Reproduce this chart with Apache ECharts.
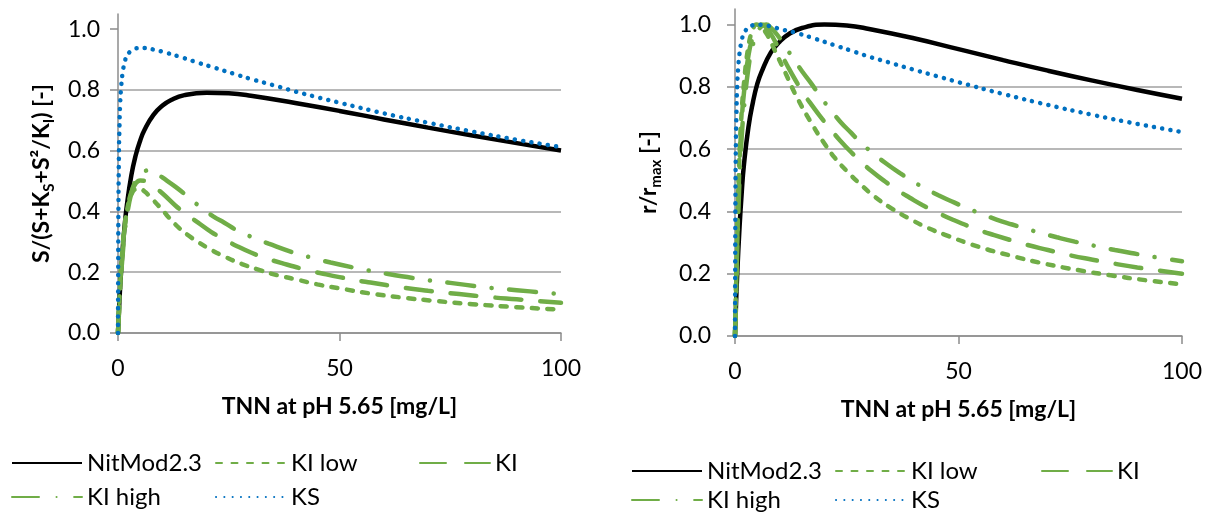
<!DOCTYPE html>
<html><head><meta charset="utf-8">
<script src="https://cdn.jsdelivr.net/npm/echarts@6/dist/echarts.min.js"></script>
<style>html,body{margin:0;padding:0;background:#fff}#c{width:1211px;height:512px}</style>
</head><body><div id="c"></div>
<script>
const seriesNames = ['NitMod2.3', 'KI low', 'KI', 'KI high', 'KS'];
const xTicks = [0, 50, 100];
const yTicks = [0, 0.2, 0.4, 0.6, 0.8, 1.0];
const xTitle = 'TNN at pH 5.65 [mg/L]';
const yTitleLeft = 'S/(S+K{sub|S}+S²/K{sub|I}) [-]';
const yTitleRight = 'r/r{sub|max} [-]';

// ---- Left panel: S/(S+KS+S²/KI) ----
const L_nit_x = [0,0.25,0.5,1,1.5,2,3,4,5,6,8,10,12,15,20,25,30,40,50,60,70,80,90,100];
const L_nit_y = [0,0.084,0.154,0.267,0.353,0.42,0.518,0.585,0.633,0.669,0.718,0.748,0.767,0.783,0.791,0.789,0.781,0.757,0.731,0.703,0.676,0.65,0.625,0.601];
const L_low_x = [0,0.5,1,1.5,2,3,4,5,6,7,8,10,12,14,16,18,21,24,28,32,36,40,45,50,57,64,72,80,90,100];
const L_low_y = [0,0.165,0.276,0.351,0.401,0.455,0.473,0.474,0.466,0.452,0.437,0.405,0.372,0.343,0.32,0.3,0.274,0.252,0.227,0.207,0.19,0.177,0.16,0.147,0.13,0.117,0.105,0.095,0.085,0.077];
const L_ki_x = [0,0.5,1,1.5,2,3,4,5,6,7,8,10,13,15.5,18,21,24,27,30,33,37,43,47,50,54,57,64,70,77,84,90,100];
const L_ki_y = [0,0.158,0.268,0.345,0.399,0.463,0.492,0.502,0.501,0.494,0.483,0.46,0.419,0.39,0.364,0.333,0.308,0.285,0.265,0.248,0.23,0.206,0.193,0.184,0.173,0.166,0.15,0.139,0.128,0.118,0.111,0.0995];
const L_hi_x = [0,0.5,1,1.5,2,3,4,5,6,7,8,10,13,15.5,18.4,21.5,24,27,30.7,34,40,44,48,54,58,61,68,72,75,82,86,90,96,100];
const L_hi_y = [0,0.144,0.249,0.327,0.384,0.46,0.502,0.523,0.533,0.535,0.532,0.512,0.481,0.452,0.417,0.384,0.363,0.337,0.313,0.294,0.263,0.247,0.232,0.213,0.202,0.194,0.178,0.17,0.165,0.152,0.146,0.141,0.133,0.128];
const L_ks_x = [0,0.05,0.1,0.2,0.3,0.5,0.75,1,1.5,2,3,4,5,6,8,10,14,18,22,26,30,35,40,45,50,60,70,80,90,100];
const L_ks_y = [0,0.24,0.42,0.58,0.66,0.76,0.815,0.851,0.891,0.911,0.93,0.937,0.938,0.938,0.933,0.926,0.909,0.89,0.872,0.854,0.836,0.816,0.795,0.776,0.758,0.723,0.692,0.663,0.636,0.612];

// ---- Right panel: r/rmax ----
const R_nit_x = [0,0.25,0.5,1,1.5,2,3,4,5,6,8,10,12,15,20,25,30,40,50,60,70,80,90,100];
const R_nit_y = [0,0.11,0.2,0.345,0.46,0.55,0.67,0.75,0.81,0.85,0.91,0.945,0.969,0.989,1.0,0.997,0.986,0.956,0.921,0.886,0.852,0.82,0.79,0.762];
const R_low_x = [0,0.5,1,1.5,2,3,4,4.8,6,7,8,9.3,11.5,13.8,17.5,20,22.4,25.4,28,31.3,35,39.5,43.3,47,54.4,62,69,77,84,92,100];
const R_low_y = [0,0.34,0.58,0.72,0.81,0.93,0.985,1.0,0.99,0.972,0.945,0.905,0.838,0.768,0.674,0.618,0.571,0.524,0.488,0.447,0.41,0.373,0.346,0.325,0.287,0.257,0.233,0.211,0.195,0.179,0.166];
const R_ki_x = [0,0.5,1,1.5,2,3,4,5,6,7,8,9,10,11.6,13.5,15.7,17.1,19.5,21.6,23.5,26,28.3,30.6,33.5,36.5,39.1,42,45.5,48.5,54.8,58,65,70,75,80,85,90,95,100];
const R_ki_y = [0,0.3,0.55,0.69,0.78,0.9,0.96,0.99,1.0,0.99,0.97,0.945,0.915,0.871,0.822,0.771,0.743,0.697,0.66,0.628,0.59,0.558,0.529,0.497,0.467,0.444,0.42,0.395,0.375,0.339,0.324,0.294,0.276,0.259,0.245,0.232,0.22,0.21,0.2];
const R_hi_x = [0,0.5,1,1.5,2,3,4,5,6,7,8,9,10.8,12.7,15,17,19,21,23.5,26,28,30.6,33.9,37,39.5,42.4,45.5,49,52,55,58.5,62,65,68.4,72,76,80,85,90,95,100];
const R_hi_y = [0,0.27,0.5,0.64,0.73,0.86,0.935,0.975,0.995,1.0,0.99,0.975,0.94,0.898,0.85,0.812,0.771,0.733,0.689,0.652,0.623,0.59,0.553,0.522,0.499,0.475,0.452,0.429,0.41,0.393,0.374,0.358,0.345,0.331,0.317,0.303,0.291,0.276,0.263,0.251,0.24];
const R_ks_x = [0,0.05,0.1,0.2,0.3,0.5,0.75,1,1.5,2,3,4,5,6,8,10,14,18,22,26,30,35,40,45,50,60,70,80,90,100];
const R_ks_y = [0,0.26,0.45,0.62,0.7,0.81,0.868,0.906,0.949,0.971,0.991,0.998,1.0,0.999,0.994,0.986,0.972,0.954,0.935,0.916,0.897,0.876,0.855,0.835,0.815,0.777,0.742,0.71,0.681,0.655];

const FONT = 'Lato';
const GREEN = '#70AD47', BLUE = '#0070C0', BLACK = '#000000';
const lineStyles = {
  'NitMod2.3': {color: BLACK, width: 4.5, type: 'solid', cap: 'butt'},
  'KI low':    {color: GREEN, width: 4.5, type: [6, 9.5], cap: 'round'},
  'KI':        {color: GREEN, width: 4.5, type: [26, 19], cap: 'round'},
  'KI high':   {color: GREEN, width: 4.5, type: [27, 17.5, 0.1, 17.5], cap: 'round'},
  'KS':        {color: BLUE, width: 4.5, type: [0.1, 8.2], cap: 'round'}
};
const panels = [
  {xs: [L_nit_x, L_low_x, L_ki_x, L_hi_x, L_ks_x], ys: [L_nit_y, L_low_y, L_ki_y, L_hi_y, L_ks_y]},
  {xs: [R_nit_x, R_low_x, R_ki_x, R_hi_x, R_ks_x], ys: [R_nit_y, R_low_y, R_ki_y, R_hi_y, R_ks_y]}
];
function pairs(xs, ys) { return xs.map((x, i) => [x, ys[i]]); }

const AXIS_GRAY = '#8c8c8c', GRID_GRAY = '#a0a0a0';
const grids = [
  {left: 118, top: 14, width: 443, height: 319},
  {left: 735, top: 9, width: 447, height: 327}
];
function xAxisFor(i) {
  return {
    type: 'value', gridIndex: i, min: 0, max: 100, interval: 50,
    axisLine: {show: true, onZero: false, lineStyle: {color: AXIS_GRAY, width: 1.5}},
    axisTick: {show: true, inside: false, length: 8, customValues: xTicks, lineStyle: {color: AXIS_GRAY, width: 1.5}},
    splitLine: {show: false},
    axisLabel: {margin: 24, customValues: xTicks, fontFamily: FONT, fontSize: 23, color: '#000', formatter: v => String(v)},
    name: xTitle, nameLocation: 'middle', nameGap: 62,
    nameTextStyle: {fontFamily: FONT, fontSize: 23, fontWeight: 'bold', color: '#000'}
  };
}
function yAxisFor(i, title, gap, labelMargin) {
  return {
    type: 'value', gridIndex: i, min: 0, max: 1.05, interval: 0.2,
    axisLine: {show: true, lineStyle: {color: AXIS_GRAY, width: 1.5}},
    axisTick: {show: true, inside: false, length: 8, customValues: yTicks, lineStyle: {color: AXIS_GRAY, width: 1.5}},
    splitLine: {show: true, showMaxLine: false, lineStyle: {color: GRID_GRAY, width: 1.5}},
    axisLabel: {margin: labelMargin, customValues: yTicks, fontFamily: FONT, fontSize: 23, color: '#000', formatter: v => v.toFixed(1)},
    name: title, nameLocation: 'middle', nameRotate: 90, nameGap: gap,
    nameTextStyle: {
      fontFamily: FONT, fontSize: 23, fontWeight: 'bold', color: '#000', lineHeight: 30,
      rich: {sub: {fontFamily: FONT, fontSize: 15, fontWeight: 'bold', color: '#000', lineHeight: 14, verticalAlign: 'bottom'}}
    }
  };
}

const series = [];
panels.forEach((p, gi) => {
  seriesNames.forEach((name, si) => {
    series.push({
      type: 'line', name: name, xAxisIndex: gi, yAxisIndex: gi,
      data: pairs(p.xs[si], p.ys[si]),
      symbol: 'none', showSymbol: false, smooth: 0.5,
      lineStyle: Object.assign({}, lineStyles[name]),
      itemStyle: {color: lineStyles[name].color},
      emphasis: {disabled: true}, z: 2 + si
    });
  });
});

const legendCols = [[11, 215, 419], [631, 835, 1041]];
const legendRows = [[463, 497], [471, 500]];
const legendLayout = [[0, 0], [0, 1], [0, 2], [1, 0], [1, 1]]; // [row, col] for each name
const legends = [];
[0, 1].forEach(pi => {
  seriesNames.forEach((name, k) => {
    const [r, c] = legendLayout[k];
    legends.push({
      data: [name], left: legendCols[pi][c], top: legendRows[pi][r] - 14,
      orient: 'horizontal', padding: 0, itemWidth: 70, itemHeight: 14, itemGap: 0,
      selectedMode: false,
      itemStyle: {color: 'rgba(0,0,0,0)', borderColor: 'rgba(0,0,0,0)', borderWidth: 0, opacity: 0},
      textStyle: {fontFamily: FONT, fontSize: 24, color: '#000', lineHeight: 28}
    });
  });
});

const chart = echarts.init(document.getElementById('c'), null, {renderer: 'canvas'});
chart.setOption({
  animation: false,
  backgroundColor: '#ffffff',
  grid: grids,
  xAxis: [xAxisFor(0), xAxisFor(1)],
  yAxis: [yAxisFor(0, yTitleLeft, 61, 18), yAxisFor(1, yTitleRight, 71, 24)],
  legend: legends,
  series: series
});
</script></body></html>
